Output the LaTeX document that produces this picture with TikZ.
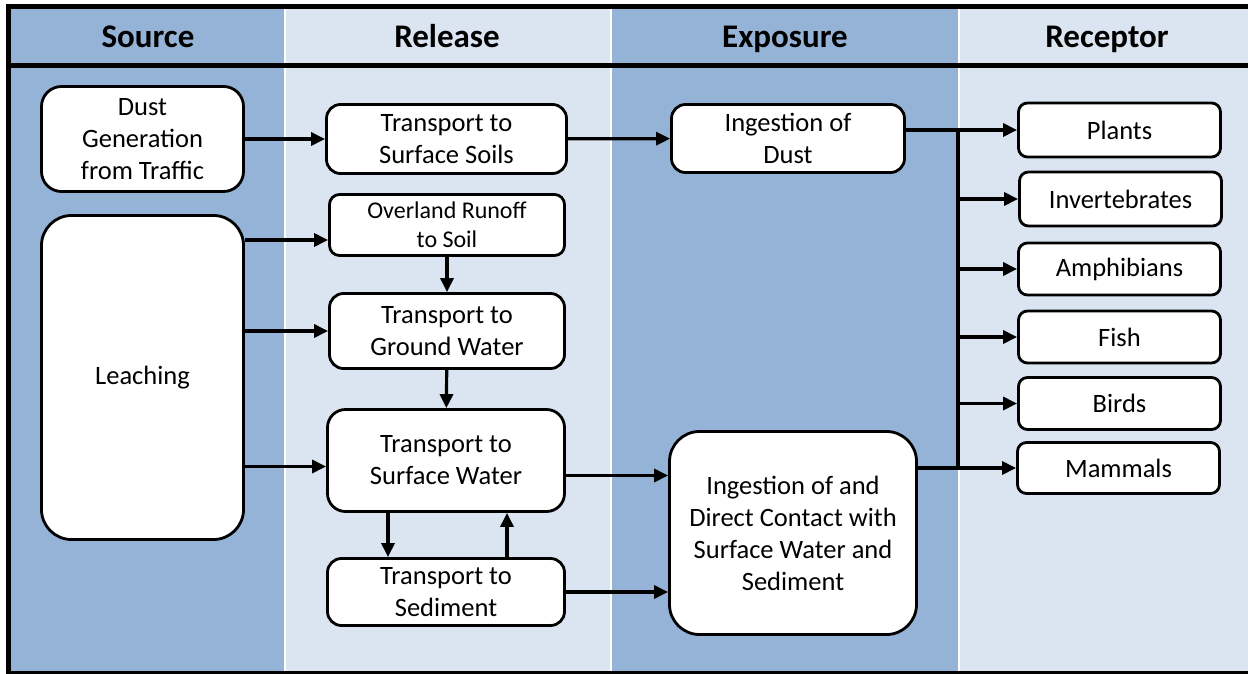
\documentclass[tikz,border=0pt]{standalone}
\usepackage{fontspec}
\setmainfont{Carlito}
\usepackage{tikz}
\usetikzlibrary{arrows.meta,calc,positioning}
\definecolor{coldark}{RGB}{149,179,215}
\definecolor{collight}{RGB}{219,229,241}

\begin{document}
\begin{tikzpicture}[x=1pt,y=-1pt,>={Triangle[length=14pt,width=13pt]},
  box/.style={draw,line width=2.8pt,fill=white,rounded corners=#1,align=center,inner sep=0pt,
    font=\fontsize{26.5}{32}\selectfont},
  box/.default=12pt,
  arr/.style={->,line width=3.2pt},
  head/.style={anchor=base,font=\fontsize{33}{38}\selectfont\bfseries}]
  \useasboundingbox (0,0) rectangle (1248,674);
  \fill[coldark] (9,7) rectangle (285,674);
  \fill[collight] (285,7) rectangle (611,674);
  \fill[coldark] (611,7) rectangle (959,674);
  \fill[collight] (959,7) rectangle (1248,674);
  \foreach \xx in {285,611,959}
    \draw[white,line width=2pt] (\xx,7) -- (\xx,674);
  \draw[line width=5pt] (1248,7) -- (8.5,7) -- (8.5,673) -- (1248,673);
  \draw[line width=5pt] (8.5,65.5) -- (1248,65.5);
  \node[head] (hsrc) at (148,48) {Source};
  \node[head] (hrel) at (447,48) {Release};
  \node[head] (hexp) at (785,48) {Exposure};
  \node[head] (hrec) at (1107,48) {Receptor};
  \node[box=20pt,minimum width=202,minimum height=105] (dust) at (142.5,139) {Dust\\Generation\\from Traffic};
  \node[box=30pt,minimum width=202,minimum height=324] (leach) at (142.5,377.5) {Leaching};
  \node[box=14pt,minimum width=240,minimum height=69] (tss) at (446.5,139) {Transport to\\Surface Soils};
  \node[box=10pt,minimum width=235,minimum height=61,font=\fontsize{24}{29}\selectfont] (runoff) at (447,225) {Overland Runoff\\to Soil};
  \node[box=14pt,minimum width=235,minimum height=75] (tgw) at (447,331) {Transport to\\Ground Water};
  \node[box=18pt,minimum width=237,minimum height=102] (tsw) at (446,460.5) {Transport to\\Surface Water};
  \node[box=14pt,minimum width=237,minimum height=67] (sed) at (446,592) {Transport to\\Sediment};
  \node[box=14pt,minimum width=233,minimum height=68] (ingdust) at (788,138.5) {Ingestion of\\Dust};
  \node[box=30pt,minimum width=247,minimum height=203] (ingest) at (793,533) {Ingestion of and\\Direct Contact with\\Surface Water and\\Sediment};
  \node[box=9pt,minimum width=202,minimum height=54] (plants) at (1119.5,130) {Plants};
  \node[box=9pt,minimum width=202,minimum height=54] (inv) at (1120.5,199) {Invertebrates};
  \node[box=9pt,minimum width=202,minimum height=52] (amph) at (1119.5,269) {Amphibians};
  \node[box=9pt,minimum width=202,minimum height=52] (fish) at (1119.5,337) {Fish};
  \node[box=9pt,minimum width=202,minimum height=52] (birds) at (1119.5,403.5) {Birds};
  \node[box=9pt,minimum width=202,minimum height=51] (mammals) at (1118.5,468) {Mammals};
  \coordinate (rin) at ($(runoff.west)+(0,15)$);
  \coordinate (win) at ($(tsw.west)+(0,6)$);
  \coordinate (bus) at (958,0);
  \draw[arr] (dust) -- (tss);
  \draw[arr] (tss) -- (ingdust);
  \draw[arr] (leach.east |- rin) -- (rin);
  \draw[arr] (leach.east |- tgw.west) -- (tgw.west);
  \draw[arr] (leach.east |- win) -- (win);
  \draw[arr] (runoff) -- (tgw);
  \draw[arr] (tgw) -- (tsw);
  \draw[arr] ($(tsw.south)+(-58,0)$) -- ($(sed.north)+(-58,0)$);
  \draw[arr] ($(sed.north)+(61,0)$) -- ($(tsw.south)+(61,0)$);
  \draw[arr] ($(tsw.east)+(0,15)$) -- ($(tsw.east -| ingest.west)+(0,15)$);
  \draw[arr] (sed.east) -- (sed.east -| ingest.west);
  \draw[arr] (ingdust.east |- plants.west) -- (plants.west);
  \draw[arr] (ingest.east |- mammals.west) -- (mammals.west);
  \draw[line width=3.2pt] (bus |- plants.west) -- (bus |- mammals.west);
  \foreach \n in {inv,amph,fish,birds}
    \draw[arr] (bus |- \n.west) -- (\n.west);
\end{tikzpicture}
\end{document}
